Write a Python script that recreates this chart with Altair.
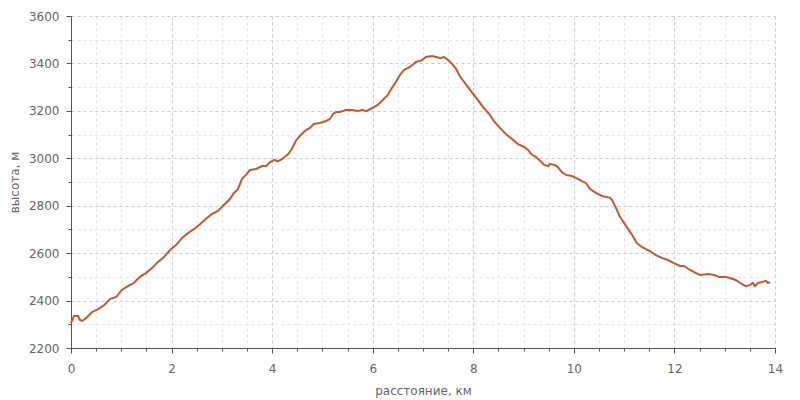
import altair as alt
import pandas as pd

dist_km = [0.0, 0.06, 0.14, 0.18, 0.22, 0.3, 0.42, 0.54, 0.66, 0.78, 0.9, 1.01, 1.13, 1.25, 1.37,
           1.49, 1.61, 1.73, 1.85, 1.97, 2.09, 2.21, 2.33, 2.45, 2.57, 2.68, 2.8, 2.92, 3.04, 3.16,
           3.24, 3.32, 3.4, 3.48, 3.56, 3.68, 3.8, 3.88, 3.96, 4.04, 4.12, 4.2, 4.32, 4.39, 4.47,
           4.55, 4.65, 4.75, 4.83, 4.95, 5.07, 5.15, 5.21, 5.27, 5.35, 5.47, 5.59, 5.71, 5.79, 5.87,
           5.99, 6.1, 6.22, 6.3, 6.38, 6.46, 6.54, 6.62, 6.74, 6.86, 6.98, 7.06, 7.18, 7.26, 7.34,
           7.42, 7.5, 7.58, 7.66, 7.73, 7.85, 7.97, 8.09, 8.21, 8.33, 8.41, 8.53, 8.65, 8.77, 8.89,
           9.01, 9.09, 9.15, 9.25, 9.33, 9.41, 9.49, 9.52, 9.62, 9.68, 9.76, 9.84, 9.96, 10.04, 10.16,
           10.24, 10.32, 10.44, 10.56, 10.72, 10.76, 10.84, 10.92, 11.04, 11.16, 11.25, 11.35, 11.51,
           11.63, 11.75, 11.87, 11.99, 12.11, 12.19, 12.31, 12.43, 12.51, 12.67, 12.79, 12.9, 13.02,
           13.1, 13.22, 13.34, 13.42, 13.5, 13.56, 13.6, 13.66, 13.74, 13.82, 13.86, 13.9]
elev_m = [2305, 2335, 2335, 2318, 2314, 2326, 2352, 2364, 2381, 2407, 2415, 2445, 2461, 2474, 2500,
          2516, 2537, 2563, 2584, 2613, 2634, 2664, 2685, 2702, 2723, 2744, 2765, 2778, 2803, 2828,
          2854, 2870, 2913, 2930, 2951, 2955, 2967, 2967, 2984, 2993, 2988, 2997, 3018, 3039, 3073,
          3094, 3115, 3128, 3145, 3149, 3157, 3166, 3187, 3195, 3195, 3204, 3204, 3199, 3204, 3199,
          3212, 3225, 3250, 3267, 3296, 3322, 3351, 3372, 3385, 3406, 3414, 3427, 3431, 3427, 3423,
          3427, 3414, 3398, 3376, 3347, 3313, 3279, 3246, 3212, 3183, 3157, 3128, 3102, 3081, 3060,
          3048, 3035, 3018, 3005, 2989, 2972, 2967, 2976, 2972, 2963, 2942, 2930, 2925, 2917, 2904,
          2896, 2870, 2854, 2841, 2833, 2824, 2790, 2752, 2714, 2676, 2643, 2626, 2609,
          2592, 2580, 2571, 2558, 2546, 2546, 2529, 2516, 2508, 2512, 2508, 2499, 2499,
          2495, 2487, 2470, 2461, 2465, 2474, 2461, 2474, 2478, 2483, 2474, 2478]

x_major = [0, 2, 4, 6, 8, 10, 12, 14]
x_minor = [i * 0.5 for i in range(29)]
y_major = [2200, 2400, 2600, 2800, 3000, 3200, 3400, 3600]
y_minor = list(range(2200, 3601, 100))

df = pd.DataFrame({"d": dist_km, "h": elev_m})

FONT = "DejaVu Sans"
TXT = "#666666"
AX = "#555555"

xs = alt.Scale(domain=[0, 14], nice=False, zero=False)
ys = alt.Scale(domain=[2200, 3600], nice=False, zero=False)

minor = alt.Chart(df).mark_line(opacity=0).encode(
    x=alt.X("d:Q", scale=xs, axis=alt.Axis(values=x_minor, labels=False, title=None, orient="bottom",
                                           grid=True, gridColor="#e6e6e6", gridDash=[3, 3],
                                           tickSize=3, tickColor=AX, domain=False)),
    y=alt.Y("h:Q", scale=ys, axis=alt.Axis(values=y_minor, labels=False, title=None, orient="left",
                                           grid=True, gridColor="#e6e6e6", gridDash=[3, 3],
                                           tickSize=3, tickColor=AX, domain=False)),
)

major = alt.Chart(df).mark_line(color="#c9572b", strokeWidth=2).encode(
    x=alt.X("d:Q", scale=xs, axis=alt.Axis(values=x_major, format="d", title="расстояние, км", orient="bottom",
                                           grid=True, gridColor="#cccccc", gridDash=[3, 3],
                                           tickSize=5, tickColor=AX, domainColor=AX,
                                           labelFont=FONT, labelFontSize=12, labelColor=TXT,
                                           labelFlush=False,
                                           labelPadding=10, titleFont=FONT, titleFontSize=12,
                                           titleFontWeight="normal", titleColor=TXT, titlePadding=11)),
    y=alt.Y("h:Q", scale=ys, axis=alt.Axis(values=y_major, format="d", title="высота, м", orient="left",
                                           grid=True, gridColor="#cccccc", gridDash=[3, 3],
                                           tickSize=5, tickColor=AX, domainColor=AX,
                                           labelFont=FONT, labelFontSize=12, labelColor=TXT,
                                           labelFlush=False,
                                           labelPadding=7, titleFont=FONT, titleFontSize=12,
                                           titleFontWeight="normal", titleColor=TXT, titlePadding=7)),
)

chart = alt.layer(minor, major).resolve_axis(x="independent", y="independent").properties(
    width=704, height=332,
    autosize=alt.AutoSizeParams(type="none"),
    padding={"left": 63, "top": 8, "right": 17, "bottom": 56},
).configure_view(stroke=None)

chart.save("out.html", embed_options={"renderer": "svg", "actions": False})
